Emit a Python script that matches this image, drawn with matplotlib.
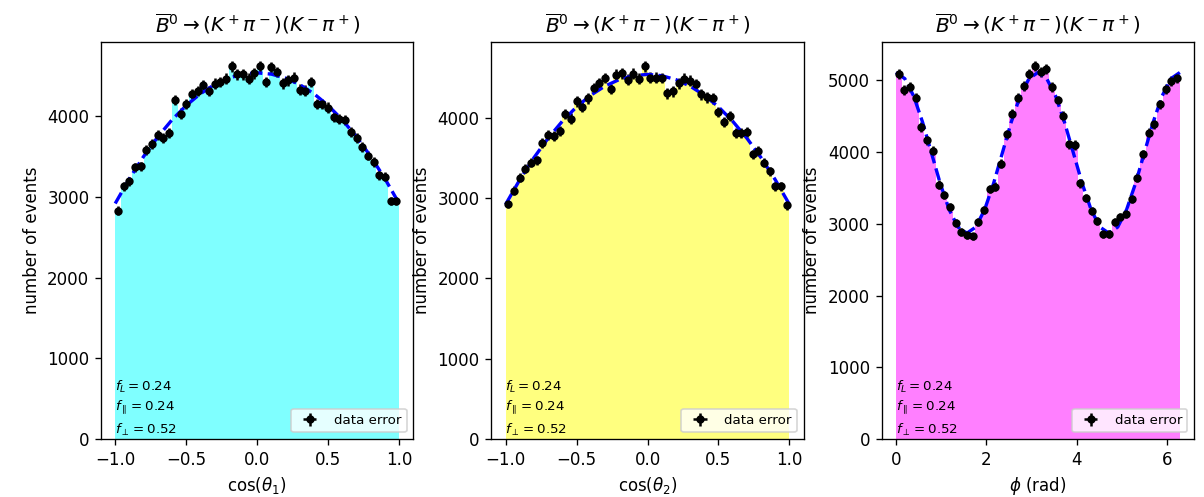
import numpy as np
import matplotlib
matplotlib.use('Agg')
import matplotlib.pyplot as plt

# event counts per bin (50 bins)
counts_cos1 = [2830, 3135, 3195, 3370, 3380, 3580, 3660, 3765, 3735, 3795,
               4200, 4035, 4150, 4280, 4315, 4385, 4315, 4405, 4425, 4465,
               4620, 4520, 4520, 4465, 4535, 4620, 4425, 4610, 4550, 4410,
               4445, 4480, 4330, 4320, 4425, 4155, 4150, 4110, 3990, 3970,
               3950, 3805, 3735, 3620, 3515, 3435, 3270, 3250, 2950, 2950]
counts_cos2 = [2925, 3090, 3255, 3365, 3440, 3470, 3690, 3780, 3770, 3840,
               4045, 3990, 4205, 4130, 4240, 4370, 4430, 4495, 4360, 4535,
               4555, 4475, 4550, 4485, 4640, 4500, 4500, 4495, 4305, 4330,
               4430, 4485, 4460, 4420, 4290, 4255, 4240, 4070, 3950, 4020,
               3810, 3810, 3825, 3545, 3585, 3440, 3335, 3150, 3150, 2910]
counts_phi = [5090, 4860, 4905, 4760, 4350, 4165, 4020, 3545, 3405, 3230,
              3010, 2885, 2840, 2825, 3020, 3195, 3485, 3520, 3840, 4250,
              4530, 4760, 4920, 5090, 5200, 5120, 5155, 4905, 4720, 4505,
              4110, 4100, 3565, 3360, 3185, 3045, 2860, 2860, 3020, 3090,
              3140, 3345, 3645, 3970, 4270, 4395, 4665, 4875, 4990, 5035]

# fitted model curves
fit_cos = [2920, 3228, 3503, 3746, 3957, 4135, 4281, 4394, 4475, 4524, 4540,
           4524, 4475, 4394, 4281, 4135, 3957, 3746, 3503, 3228, 2920]
fit_phi = [5110, 5025, 4782, 4419, 3990, 3561, 3198, 2955, 2870,
           2955, 3198, 3561, 3990, 4419, 4782, 5025, 5110,
           5025, 4782, 4419, 3990, 3561, 3198, 2955, 2870,
           2955, 3198, 3561, 3990, 4419, 4782, 5025, 5110]

fractions = [r'$f_L = 0.24$', r'$f_\parallel = 0.24$', r'$f_\perp = 0.52$']
title = r'$\overline{B}^0\to(K^+\pi^-)(K^-\pi^+)$'

panels = [
    (counts_cos1, fit_cos, (-1, 1), 'cyan', r'cos($\theta_1$)'),
    (counts_cos2, fit_cos, (-1, 1), 'yellow', r'cos($\theta_2$)'),
    (counts_phi, fit_phi, (0, 2 * np.pi), 'magenta', r'$\phi$ (rad)'),
]

fig, axes = plt.subplots(1, 3, figsize=(1204 / 120, 497 / 120), dpi=120)
fig.subplots_adjust(left=0.0839, right=0.9917, bottom=0.1167, top=0.9155, wspace=0.25)

for ax, (counts, fit, (lo, hi), col, xlab) in zip(axes, panels):
    counts = np.array(counts, dtype=float)
    edges = np.linspace(lo, hi, len(counts) + 1)
    centers = 0.5 * (edges[1:] + edges[:-1])
    half = 0.5 * (edges[1] - edges[0])
    ax.hist(centers, bins=edges, weights=counts, histtype='stepfilled',
            color=col, alpha=0.5)
    ax.errorbar(centers, counts, xerr=half, yerr=np.sqrt(counts), fmt='k.',
                ms=8, elinewidth=1.5, label='data error')
    xf = np.linspace(lo, hi, len(fit))
    ax.plot(xf, fit, 'b--', lw=2)
    for t, yy in zip(fractions, [0.132, 0.081, 0.024]):
        ax.text(0.045, yy, t, transform=ax.transAxes, fontsize=8, va='center')
    ax.legend(loc='lower right', fontsize=8)
    ax.set_title(title)
    # reference crops the x labels at the bottom edge; keep them just inside
    ax.set_xlabel(xlab, labelpad=4)
    ax.set_ylabel('number of events')

fig.savefig('out.png', dpi=120)
